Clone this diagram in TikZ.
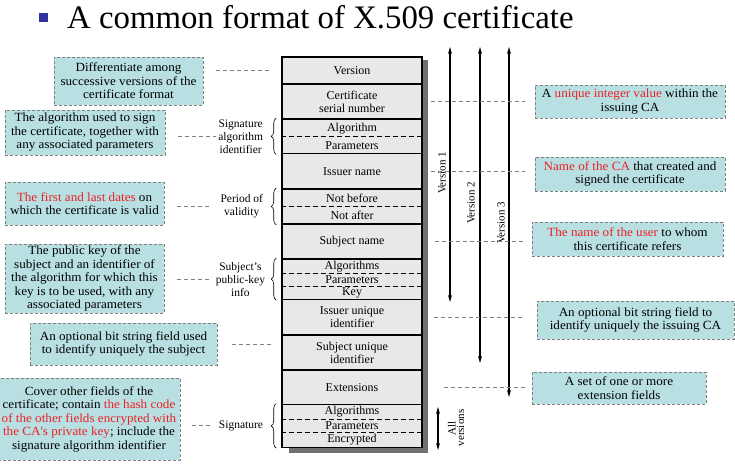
\documentclass[tikz,border=0pt]{standalone}
\usepackage{fontspec}
\setmainfont{Liberation Serif}
\newfontfamily\boxfont[FakeStretch=1.05]{Liberation Serif}
\usetikzlibrary{decorations.pathreplacing,arrows.meta}
\definecolor{boxfill}{RGB}{184,223,226}
\definecolor{boxline}{RGB}{128,128,128}
\definecolor{hl}{RGB}{236,32,36}
\definecolor{rowfill}{RGB}{232,232,232}
\definecolor{shadowc}{RGB}{112,112,112}
\definecolor{bul}{RGB}{51,51,160}
\newcommand{\hlt}[1]{\textcolor{hl}{#1}}
\begin{document}
\begin{tikzpicture}[x=1pt,y=-1pt,
  note/.style={draw=boxline, dashed, dash pattern=on 3pt off 2pt, line width=0.8pt, fill=boxfill, align=center,
    font=\boxfont\fontsize{12.5}{13.5}\selectfont, inner sep=0pt},
  row/.style={draw=black, line width=1.6pt, fill=rowfill, minimum width=140pt, inner sep=0pt, align=center,
    font=\fontsize{12}{13}\selectfont},
  sub/.style={inner sep=0pt, font=\fontsize{12}{13}\selectfont},
  sepl/.style={dashed, dash pattern=on 5pt off 3pt, line width=0.8pt},
  conn/.style={draw=boxline, dashed, dash pattern=on 4pt off 3pt, line width=0.8pt},
  brc/.style={decorate, decoration={brace, amplitude=5pt}, line width=0.6pt},
  blab/.style={anchor=east, align=center, inner sep=0pt, font=\fontsize{11.5}{13}\selectfont},
  varr/.style={{Stealth[length=7pt,width=4pt]}-{Stealth[length=7pt,width=4pt]}, line width=1.3pt},
  vlab/.style={rotate=90, inner sep=0pt, font=\fontsize{11}{13}\selectfont}
]
\useasboundingbox (0,0) rectangle (735,465);
% title
\node[fill=bul, minimum size=9.5pt, inner sep=0pt] (bullet) at (43.5,17.7) {};
\node[anchor=base west, inner sep=0pt, font=\fontsize{32.8}{36}\selectfont] (title) at (67,29) {A common format of X.509 certificate};

% shadow
\fill[shadowc] (289,60) rectangle (428,453);

% rows
\node[row, minimum height=27.3pt] (ver) at (352,70.65) {Version};
\node[row, minimum height=34.7pt] (ser) at (352,101.65) {Certificate\\serial number};
\node[row, minimum height=34.7pt] (sa) at (352,136.35) {};
\node[row, minimum height=35.3pt] (iss) at (352,171.35) {Issuer name};
\node[row, minimum height=35pt] (val) at (352,206.5) {};
\node[row, minimum height=35pt] (sub) at (352,241.5) {Subject name};
\node[row, minimum height=40.3pt] (pk) at (352,279.15) {};
\node[row, minimum height=35.7pt] (iu) at (352,317.15) {Issuer unique\\identifier};
\node[row, minimum height=35pt] (su) at (352,352.5) {Subject unique\\identifier};
\node[row, minimum height=34.3pt] (ext) at (352,387.15) {Extensions};
\node[row, minimum height=43pt] (sg) at (352,425.8) {};

% sub rows
\node[sub] (alg1) at (352,128.2) {Algorithm};
\node[sub] (par1) at (352,145.4) {Parameters};
\node[sub] (nb) at (352,198.2) {Not before};
\node[sub] (na) at (352,215.6) {Not after};
\node[sub] (alg2) at (352,266.5) {Algorithms};
\node[sub] (par2) at (352,280) {Parameters};
\node[sub] (key) at (352,293) {Key};
\node[sub] (alg3) at (352,412) {Algorithms};
\node[sub] (par3) at (352,426) {Parameters};
\node[sub] (enc) at (352,440) {Encrypted};

\draw[sepl] (sa.west |- 0,136.7) -- (sa.east |- 0,136.7);
\draw[sepl] (val.west |- 0,206.7) -- (val.east |- 0,206.7);
\draw[sepl] (pk.west |- 0,273.3) -- (pk.east |- 0,273.3);
\draw[sepl] (pk.west |- 0,286.3) -- (pk.east |- 0,286.3);
\draw[sepl] (sg.west |- 0,419.3) -- (sg.east |- 0,419.3);
\draw[sepl] (sg.west |- 0,432) -- (sg.east |- 0,432);

% braces and labels
\draw[brc] ([xshift=-5pt]sa.south west) -- ([xshift=-5pt]sa.north west);
\draw[brc] ([xshift=-5pt]val.south west) -- ([xshift=-5pt]val.north west);
\draw[brc] ([xshift=-5pt]pk.south west) -- ([xshift=-5pt]pk.north west);
\draw[brc] ([xshift=-5pt]sg.south west) -- ([xshift=-5pt]sg.north west);
\node[blab] (sal) at ([xshift=-18pt]sa.west) {Signature\\algorithm\\identifier};
\node[blab] (pvl) at ([xshift=-18pt]val.west) {Period of\\validity};
\node[blab] (pkl) at ([xshift=-16pt]pk.west) {Subject's\\public-key\\info};
\node[blab] (sgl) at ([xshift=-18pt]sg.west) {Signature};

% version arrows
\coordinate (v1t) at (450,47); \coordinate (v1b) at (450,302);
\coordinate (v2t) at (480,47); \coordinate (v2b) at (480,363);
\coordinate (v3t) at (509,47); \coordinate (v3b) at (509,397);
\coordinate (avt) at (438,407); \coordinate (avb) at (438,450);
\draw[varr] (v1b) -- (v1t);
\draw[varr] (v2b) -- (v2t);
\draw[varr] (v3b) -- (v3t);
\draw[varr] (avb) -- (avt);
\node[vlab] (v1l) at (442,173) {Version 1};
\node[vlab] (v2l) at (471,203) {Version 2};
\node[vlab] (v3l) at (501,223) {Version 3};
\node[vlab, align=center, font=\fontsize{11}{8.5}\selectfont] (avl) at (456,428) {All\\versions};

% left notes
\node[note, minimum width=149pt, minimum height=48pt] (n1) at (128.5,81) {Differentiate among\\successive versions of the\\certificate format};
\node[note, minimum width=160pt, minimum height=45pt] (n2) at (85,132.5) {The algorithm used to sign\\the certificate, together with\\any associated parameters};
\node[note, minimum width=159pt, minimum height=43pt] (n3) at (84.5,203.5) {\hlt{The first and last dates} on\\which the certificate is valid};
\node[note, minimum width=159pt, minimum height=69pt] (n4) at (84.5,278.5) {The public key of the\\subject and an identifier of\\the algorithm for which this\\key is to be used, with any\\associated parameters};
\node[note, minimum width=187pt, minimum height=42pt] (n5) at (123.5,344) {An optional bit string field used\\to identify uniquely the subject};
\node[note, minimum width=182pt, minimum height=82pt] (n6) at (89,419) {Cover other fields of the\\certificate; contain \hlt{the hash code}\\\hlt{of the other fields encrypted with}\\\hlt{the CA's private key}; include the\\signature algorithm identifier};

% right notes
\node[note, minimum width=190pt, minimum height=33pt] (r1) at (630,101.5) {A \hlt{unique integer value} within the\\issuing CA};
\node[note, minimum width=190pt, minimum height=34pt] (r2) at (630,174) {\hlt{Name of the CA} that created and\\signed the certificate};
\node[note, minimum width=191pt, minimum height=34pt] (r3) at (627.5,239) {\hlt{The name of the user} to whom\\this certificate refers};
\node[note, minimum width=197pt, minimum height=38pt] (r4) at (635.5,320) {An optional bit string field to\\identify uniquely the issuing CA};
\node[note, minimum width=174pt, minimum height=32pt] (r5) at (619,388) {A set of one or more\\extension fields};

% left connectors
\draw[conn, shorten <=13pt, shorten >=12pt] (n1.east |- ver) -- (ver.west);
\draw[conn, shorten <=13pt, shorten >=2pt] (n2.east |- sal) -- (sal.west);
\draw[conn, shorten <=13pt, shorten >=8pt] (n3.east |- pvl) -- (pvl.west);
\draw[conn, shorten <=13pt, shorten >=5pt] (n4.east |- pkl) -- (pkl.west);
\draw[conn, shorten <=15pt, shorten >=10pt] (n5.east) -- (n5.east -| su.west);
\draw[conn, shorten <=12pt, shorten >=6pt] (n6.east |- sgl) -- (sgl.west);

% right connectors
\draw[conn, shorten <=8pt, shorten >=10pt] (ser.east) -- (ser.east -| r1.west);
\draw[conn, shorten <=8pt, shorten >=10pt] (iss.east) -- (iss.east -| r2.west);
\draw[conn, shorten <=12pt, shorten >=7pt] (sub.east) -- (sub.east -| r3.west);
\draw[conn, shorten <=11pt, shorten >=12pt] (iu.east) -- (iu.east -| r4.west);
\draw[conn, shorten <=21pt, shorten >=7pt] (ext.east) -- (ext.east -| r5.west);
\end{tikzpicture}
\end{document}
